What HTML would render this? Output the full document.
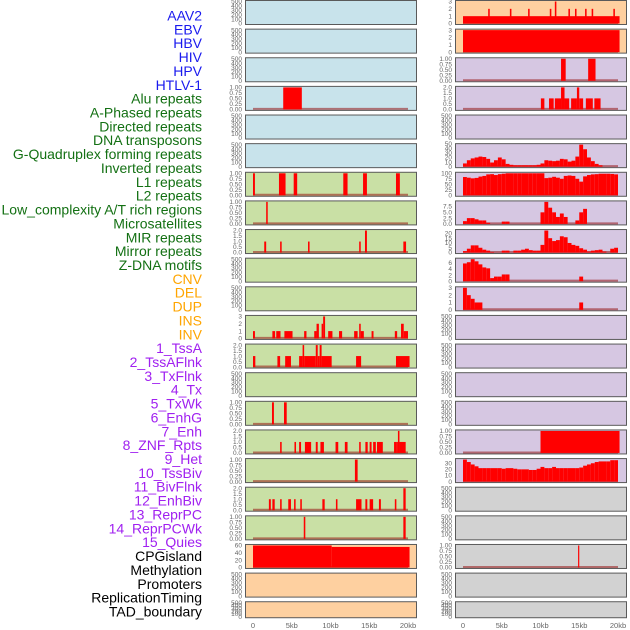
<!DOCTYPE html>
<html><head><meta charset="utf-8"><style>
body{margin:0;background:#fff;}
svg{display:block;font-family:"Liberation Sans",sans-serif;}
</style></head><body>
<svg id="chart" width="630" height="630" viewBox="0 0 630 630">
<g id="labels"></g>
<g id="panels"></g>
<g id="xaxis"></g>
</svg>
<script>
const trackNames = ["AAV2","EBV","HBV","HIV","HPV","HTLV-1","Alu repeats","A-Phased repeats","Directed repeats","DNA transposons","G-Quadruplex forming repeats","Inverted repeats","L1 repeats","L2 repeats","Low_complexity A/T rich regions","Microsatellites","MIR repeats","Mirror repeats","Z-DNA motifs","CNV","DEL","DUP","INS","INV","1_TssA","2_TssAFlnk","3_TxFlnk","4_Tx","5_TxWk","6_EnhG","7_Enh","8_ZNF_Rpts","9_Het","10_TssBiv","11_BivFlnk","12_EnhBiv","13_ReprPC","14_ReprPCWk","15_Quies","CPGisland","Methylation","Promoters","ReplicationTiming","TAD_boundary"];
const labelGroups = [6,13,5,15,5];
const groupColors = ["#1a1aee","#137013","#ffa500","#a020f0","#000000"];
const xTickValues = [0,5000,10000,15000,20000];
const xTickLabels = ["0","5kb","10kb","15kb","20kb"];

// sparse bar tracks: [startKb, endKb, value]
const leftAlu = [[3.9,6.3,1]];
const leftL1 = [[0,0.25,1],[3.35,4.2,1],[5.25,5.7,1],[11.65,12.2,1],[14.2,14.7,1],[18.45,18.95,1]];
const leftL2 = [[1.7,1.9,1]];
const leftMIR = [[1.45,1.7,1],[3.5,3.7,1],[7.1,7.3,1],[13.7,13.9,1],[14.45,14.7,2],[19.4,19.75,1]];
const leftINS = [[0,0.25,1],[2.5,2.85,1],[3,3.55,1],[4.05,5.1,1],[6.6,6.9,1],[7.9,8.2,1],[8.2,8.5,2],[8.85,9.05,2],[9.05,9.3,3],[9.7,10.25,1],[11.1,11.5,1],[13.05,13.5,1],[13.7,13.9,2],[13.9,14.3,1],[15.3,15.55,1],[18.3,18.6,1],[19.1,19.45,2],[19.45,20,1]];
const leftINV = [[0,0.3,1],[3.15,3.5,1],[4.15,4.9,1],[5.95,6.4,1],[6.4,6.6,2],[6.6,8.1,1],[8.1,8.35,2],[8.35,8.6,1],[8.6,8.85,2],[8.85,10.15,1],[13.3,13.95,1],[18.45,20.2,1]];
const leftTxWk = [[2.45,2.7,1],[4,4.35,1]];
const leftEnhG = [[3.5,3.7,1],[5.35,5.55,1],[5.95,6.2,1],[6.7,7.5,1],[8.1,8.35,1],[8.7,9.15,1],[10.65,11,1],[11.85,12.2,1],[13.7,13.9,1],[14.5,14.8,1],[15.05,15.3,1],[15.5,15.85,1],[16,16.75,1],[18.2,18.5,1],[18.5,18.7,1],[18.7,18.9,2],[18.9,19.7,1]];
const leftEnh = [[13.15,13.5,1]];
const leftZNF = [[2.05,2.3,1],[2.5,2.8,1],[3.5,3.7,1],[4.55,4.9,1],[5.3,5.5,1],[6.1,6.3,1],[8.95,9.25,1],[10.7,10.9,1],[13.3,14,1],[14.5,14.75,1],[15.05,15.5,1],[16.25,16.5,1],[18.3,18.5,1],[19.4,19.7,2]];
const leftHet = [[6.55,6.75,1],[19.4,19.7,1]];
const leftCPG = [[0,10.15,60],[10.15,20.2,56]];
const rightA1 = [[0,20.2,1],[3.25,3.45,2],[6.05,6.25,2],[8.4,8.6,2],[11.2,11.4,2],[11.85,12.05,3],[13.6,13.8,2],[14.45,14.65,2],[15.75,15.95,2],[16.6,16.8,2],[19.4,19.6,2]];
const rightA2 = [[0,20.2,3]];
const rightP3 = [[12.65,13.25,1],[16.15,17.1,1]];
const rightP4 = [[10.05,10.5,1],[11.1,11.7,1],[11.85,12.65,1],[12.65,13.1,2],[13.1,13.7,1],[13.95,14.45,1],[14.45,14.7,1],[14.7,15,2],[15,15.5,1],[15.85,16.75,1],[16.95,17.75,1]];
const rightP16 = [[10,20.2,1]];
const rightG20 = [[14.85,15.0,1]];

// binned tracks (0.5 kb bins from 0 to 20 kb)
const rightP6 = [7,14,18,20,22,21,17,9,14,20,16,6,4,3,3,3,3,3,3,4,7,14,13,12,13,17,16,11,13,22,48,38,20,12,6,3,0,0,0,0];
const rightP7 = [83,80,77,79,85,88,95,96,92,96,98,100,100,100,100,100,100,100,100,100,100,78,80,84,80,75,88,90,88,75,62,86,92,95,96,98,98,98,97,95];
const rightP8 = [1.2,2.5,2.5,2.0,1.5,1.5,0.5,0,0,0,1,1,0,0,0,0,0,0,0,0,5,9.5,7,5,3,4.5,3,0,0,1.5,5,6.5,0,0,0,0,0,0,0,0];
const rightP9 = [1.5,4,7.5,7.5,5,3,2,0.5,0,0,2,2,0,2,2,3,4,2.5,2,2,8,23,15,12,13,17,16,10,8,7,4.5,3,1,2,2.5,3,1,0,4,5];
const rightP10 = [5.8,6.2,7.2,6.5,5.5,4.5,4.2,1,1.5,1.5,2.2,2.2,0,0,0,0,0,0,0,0,0,0,0,0,0,0,0,0,0,0,1.5,0,0,0,0,0,0,0,0,0];
const rightP11 = [3,2,1.5,1,1,0,0,0,0,0,0,0,0,0,0,0,0,0,0,0,0,0,0,0,0,0,0,0,0,0,1,0,0,0,0,0,0,0,0,0];
const rightP17 = [36,32,28,25,22,22,22,22,22,22,21,22,22,21,20,20,20,19,19,21,24,22,22,24,22,22,22,22,22,22,23,26,28,30,32,33,33,33,35,35];

// y tick labels per scale
const ticksEmpty = ["0","100","200","300","400","500"];
const ticks1 = ["0.00","0.25","0.50","0.75","1.00"];
const ticks2 = ["0.0","0.5","1.0","1.5","2.0"];
const ticks3 = ["0","1","2","3"];
const ticks60 = ["0","20","40","60"];
const ticks75 = ["0.0","2.5","5.0","7.5"];
const ticks20 = ["0","5","10","15","20"];
const ticks6 = ["0","2","4","6"];
const ticks100 = ["0","25","50","75","100"];
const ticks50 = ["0","10","20","30","40","50"];
const ticks30 = ["0","10","20","30"];

const BLUE="#c8e3eb",GREEN="#c9e0a5",PEACH="#fed0a0",PURP="#d6c7e2",GRAY="#d2d2d2";
const leftPanels = [
 [BLUE,null,null],[BLUE,null,null],[BLUE,null,null],[BLUE,leftAlu,ticks1],[BLUE,null,null],[BLUE,null,null],
 [GREEN,leftL1,ticks1],[GREEN,leftL2,ticks1],[GREEN,leftMIR,ticks2],[GREEN,null,null],[GREEN,null,null],
 [GREEN,leftINS,ticks3],[GREEN,leftINV,ticks2],[GREEN,null,null],[GREEN,leftTxWk,ticks1],[GREEN,leftEnhG,ticks2],
 [GREEN,leftEnh,ticks1],[GREEN,leftZNF,ticks2],[GREEN,leftHet,ticks1],[PEACH,leftCPG,ticks60],[PEACH,null,null],[PEACH,null,null]];
const rightPanels = [
 [PEACH,rightA1,ticks3],[PEACH,rightA2,ticks3],[PURP,rightP3,ticks1],[PURP,rightP4,ticks2],[PURP,null,null],
 [PURP,rightP6,ticks50],[PURP,rightP7,ticks100],[PURP,rightP8,ticks75],[PURP,rightP9,ticks20],[PURP,rightP10,ticks6],
 [PURP,rightP11,ticks3],[PURP,null,null],[PURP,null,null],[PURP,null,null],[PURP,null,null],[PURP,rightP16,ticks1],
 [PURP,rightP17,ticks30],[GRAY,null,null],[GRAY,null,null],[GRAY,rightG20,ticks1],[GRAY,null,null],[GRAY,null,null]];

const NS="http://www.w3.org/2000/svg";
function mk(tag,attrs,parent){const e=document.createElementNS(NS,tag);for(const k in attrs)e.setAttribute(k,attrs[k]);parent.appendChild(e);return e;}

// labels
const lg=document.getElementById("labels");
let idx=0;
labelGroups.forEach((n,g)=>{for(let i=0;i<n;i++){
 const t=mk("text",{x:202,y:15.5+idx*13.86+5,"text-anchor":"end","font-size":"14",fill:groupColors[g]},lg);
 
 
 t.textContent=trackNames[idx];idx++;}});

const pg=document.getElementById("panels");
function xScale(side,kb){return (side===0?253:463)+kb*155/20;}
function drawPanel(side,k,cfg){
 const [bg,data,ticks]=cfg;
 const left=side===0?245:455, w=171;
 const top=0.5+k*28.63, h=(k===21?16:24), bottom=top+h;
 const g=mk("g",{},pg);
 
 
 const r=mk("rect",{x:left+0.5,y:top,width:w,height:h,fill:bg,stroke:"#5a5a5a","stroke-width":1},g);
 
 
 const tl=ticks||ticksEmpty;
 let ymax;
 let segs=[];
 if(data){
  if(Array.isArray(data[0])) segs=data.map(d=>[d[0],d[1],d[2]]);
  else segs=data.map((v,i)=>[i*0.5,(i+1)*0.5,v]);
  ymax=Math.max(...segs.map(s=>s[2]));
 } else ymax=500;
 const yS=v=>bottom-1-(v/ymax)*(h-2);
 tl.forEach(s=>{const v=parseFloat(s);
  const t=mk("text",{x:left-3,y:yS(v)+2.2,"text-anchor":"end","font-size":"6.5",fill:"#666"},g);
  
  
  t.textContent=s;});
 if(data){
  const bl=mk("line",{x1:xScale(side,0),x2:xScale(side,20),y1:bottom-1.5,y2:bottom-1.5,stroke:"rgba(150,20,20,0.55)","stroke-width":2},g);
  
  
  segs.forEach(s=>{if(s[2]<=0)return;
   const x0=xScale(side,s[0]),x1=xScale(side,s[1]);
   const b=mk("rect",{x:x0,y:yS(s[2]),width:Math.max(1.2,x1-x0),height:bottom-1-yS(s[2]),fill:"#ff0000"},g);
   
   });
 }
}
leftPanels.forEach((c,k)=>drawPanel(0,k,c));
rightPanels.forEach((c,k)=>drawPanel(1,k,c));

const xg=document.getElementById("xaxis");
[0,1].forEach(side=>{xTickValues.forEach((v,i)=>{
 const t=mk("text",{x:xScale(side,v/1000),y:628,"text-anchor":"middle","font-size":"7.5",fill:"#666"},xg);
 
 
 t.textContent=xTickLabels[i];});});
</script>
</body></html>
